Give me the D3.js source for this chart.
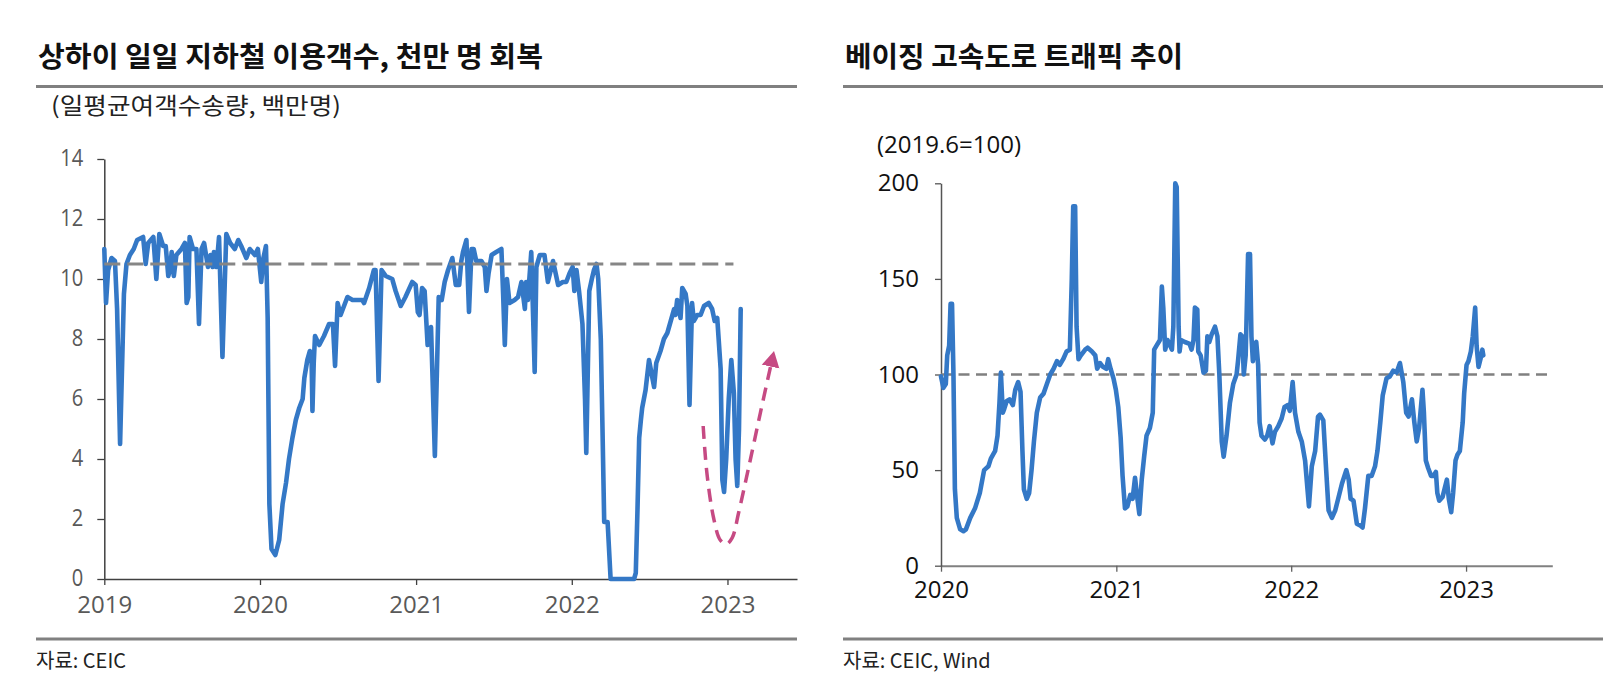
<!DOCTYPE html>
<html><head><meta charset="utf-8">
<script src="https://cdn.jsdelivr.net/npm/d3@7"></script>
<style>
html,body{margin:0;padding:0;background:#fff;}
svg{display:block;}
</style></head><body>
<svg id="chart" width="1613" height="678"></svg>
<script>
// ---------- Shanghai metro (left) ----------
const metroTitle = "상하이 일일 지하철 이용객수, 천만 명 회복";
const metroUnit = "(일평균여객수송량, 백만명)";
const metroSource = "자료: CEIC";
const metroDates = [
"2019-01-01","2019-01-05","2019-01-10","2019-01-18","2019-01-26","2019-01-31","2019-02-07","2019-02-16","2019-02-22","2019-03-02",
"2019-03-11","2019-03-19","2019-04-02","2019-04-08","2019-04-14","2019-04-26","2019-05-03","2019-05-10","2019-05-19","2019-05-25",
"2019-05-31","2019-06-04","2019-06-08","2019-06-13","2019-06-19","2019-07-01","2019-07-09","2019-07-13","2019-07-17","2019-07-20",
"2019-07-28","2019-08-05","2019-08-11","2019-08-17","2019-08-23","2019-09-01","2019-09-07","2019-09-12","2019-09-15","2019-09-21",
"2019-09-27","2019-10-05","2019-10-14","2019-10-23","2019-11-03","2019-11-11","2019-11-18","2019-11-30","2019-12-08","2019-12-20",
"2019-12-27","2020-01-04","2020-01-09","2020-01-15","2020-01-19","2020-01-23","2020-01-28","2020-02-06","2020-02-15","2020-02-23",
"2020-03-02","2020-03-09","2020-03-17","2020-03-25","2020-04-02","2020-04-10","2020-04-14","2020-04-21","2020-04-27","2020-05-01",
"2020-05-03","2020-05-06","2020-05-09","2020-05-19","2020-05-30","2020-06-11","2020-06-20","2020-06-25","2020-07-01","2020-07-08",
"2020-07-24","2020-08-05","2020-08-16","2020-08-28","2020-09-01","2020-09-13","2020-09-24","2020-09-28","2020-10-05","2020-10-12",
"2020-10-22","2020-11-06","2020-11-14","2020-11-26","2020-12-07","2020-12-23","2020-12-31","2021-01-05","2021-01-09","2021-01-15",
"2021-01-21","2021-01-28","2021-02-05","2021-02-14","2021-02-23","2021-03-02","2021-03-09","2021-03-17","2021-03-27","2021-04-04",
"2021-04-12","2021-04-17","2021-04-21","2021-04-29","2021-05-05","2021-05-11","2021-05-16","2021-05-22","2021-06-03","2021-06-11",
"2021-06-15","2021-06-20","2021-06-27","2021-07-08","2021-07-20","2021-07-24","2021-07-28","2021-08-02","2021-08-08","2021-08-20",
"2021-08-28","2021-09-05","2021-09-13","2021-09-16","2021-09-20","2021-09-28","2021-10-06","2021-10-10","2021-10-18","2021-10-29",
"2021-11-06","2021-11-18","2021-11-30","2021-12-11","2021-12-19","2021-12-27","2022-01-03","2022-01-07","2022-01-12","2022-01-18",
"2022-01-26","2022-02-01","2022-02-04","2022-02-11","2022-02-17","2022-02-22","2022-02-28","2022-03-04","2022-03-10","2022-03-14",
"2022-03-18","2022-03-26","2022-04-02","2022-05-27","2022-05-31","2022-06-04","2022-06-08","2022-06-12","2022-06-15","2022-06-23",
"2022-07-01","2022-07-09","2022-07-13","2022-07-18","2022-07-28","2022-08-05","2022-08-13","2022-08-21","2022-08-29","2022-09-01",
"2022-09-05","2022-09-13","2022-09-17","2022-09-25","2022-09-29","2022-10-04","2022-10-10","2022-10-14","2022-10-22","2022-10-30",
"2022-11-07","2022-11-18","2022-11-26","2022-12-02","2022-12-08","2022-12-16","2022-12-20","2022-12-24","2022-12-29","2023-01-04",
"2023-01-10","2023-01-16","2023-01-20","2023-01-24","2023-01-28","2023-02-01"];
const metroValues = [
11.0,9.2,10.3,10.7,10.6,9.0,4.5,9.5,10.5,10.8,
11.0,11.3,11.4,10.5,11.2,11.4,10.0,11.5,11.1,11.1,
10.1,10.3,10.9,10.1,10.8,11.0,11.2,9.2,9.4,11.4,
11.0,11.0,8.5,11.0,11.2,10.4,10.8,10.4,10.9,10.4,
11.4,7.4,11.5,11.2,11.0,11.3,11.1,10.7,11.0,10.8,
11.0,9.9,10.7,11.1,8.7,2.5,1.0,0.8,1.3,2.5,
3.2,4.0,4.7,5.3,5.7,6.0,6.7,7.3,7.6,7.3,
5.6,7.2,8.1,7.8,8.1,8.5,8.5,7.1,9.2,8.8,
9.4,9.3,9.3,9.3,9.2,9.7,10.3,10.3,6.6,10.3,
10.1,10.0,9.6,9.1,9.4,9.9,9.8,8.9,8.8,9.7,
9.6,7.8,8.4,4.1,9.4,9.3,9.9,10.3,10.7,9.8,
9.8,10.6,10.9,11.3,8.9,11.0,11.0,10.6,10.6,10.4,
9.6,10.2,10.8,10.9,11.0,9.5,7.8,10.0,9.2,9.3,
9.4,9.9,9.0,9.9,9.3,10.9,6.9,10.4,10.8,10.8,
9.9,10.6,9.8,9.9,9.9,10.2,10.4,9.6,10.3,9.6,
8.5,6.0,4.2,9.6,10.0,10.3,10.5,10.0,8.0,5.0,
1.9,1.9,0,0,0.2,2.3,4.7,5.3,5.7,6.3,
7.3,6.7,6.4,7.2,7.6,8.0,8.2,8.6,9.0,8.8,
9.3,8.7,9.7,9.5,9.1,5.8,9.2,8.6,8.8,8.8,
9.1,9.2,9.0,8.6,8.7,7.0,3.3,2.9,4.0,6.0,
7.3,6.2,4.0,3.1,5.0,9.0];
const metroRefValue = 10.5;
const metroRefDates = ["2019-01-01","2023-01-15"];
const metroYTicks = [0,2,4,6,8,10,12,14];
const metroXTicks = ["2019-01-01","2020-01-01","2021-01-01","2022-01-01","2023-01-01"];
const metroDomain = ["2019-01-01","2023-06-13"];
// annotation arrow (recovery path)
const arrowDates = ["2022-11-05","2022-11-14","2022-11-30","2022-12-15","2022-12-29","2023-01-12","2023-01-27","2023-02-20","2023-03-19","2023-04-12"];
const arrowValues = [5.1,3.5,2.0,1.3,1.16,1.37,2.2,3.74,5.53,7.08];

// ---------- Beijing highway traffic (right) ----------
const trafficTitle = "베이징 고속도로 트래픽 추이";
const trafficUnit = "(2019.6=100)";
const trafficSource = "자료: CEIC, Wind";
const trafficDates = [
"2020-01-01","2020-01-06","2020-01-11","2020-01-14","2020-01-18","2020-01-21","2020-01-24","2020-01-27","2020-01-30","2020-02-03",
"2020-02-10","2020-02-17","2020-02-22","2020-03-02","2020-03-12","2020-03-22","2020-03-31","2020-04-09","2020-04-14","2020-04-23",
"2020-04-28","2020-05-02","2020-05-05","2020-05-09","2020-05-12","2020-05-17","2020-05-23","2020-05-30","2020-06-04","2020-06-10",
"2020-06-15","2020-06-19","2020-06-22","2020-06-28","2020-07-03","2020-07-08","2020-07-13","2020-07-19","2020-07-26","2020-08-02",
"2020-08-09","2020-08-16","2020-08-23","2020-08-30","2020-09-05","2020-09-12","2020-09-19","2020-09-26","2020-09-30","2020-10-03",
"2020-10-07","2020-10-10","2020-10-14","2020-10-19","2020-10-28","2020-11-02","2020-11-11","2020-11-18","2020-11-22","2020-11-28",
"2020-12-04","2020-12-11","2020-12-15","2020-12-20","2020-12-26","2020-12-31","2021-01-05","2021-01-10","2021-01-14","2021-01-19",
"2021-01-24","2021-01-30","2021-02-04","2021-02-09","2021-02-14","2021-02-18","2021-02-23","2021-02-28","2021-03-05","2021-03-12",
"2021-03-18","2021-03-21","2021-03-28","2021-04-02","2021-04-06","2021-04-09","2021-04-13","2021-04-18","2021-04-27","2021-04-30",
"2021-05-04","2021-05-07","2021-05-11","2021-05-13","2021-05-16","2021-05-24","2021-06-03","2021-06-07","2021-06-11","2021-06-14",
"2021-06-19","2021-06-21","2021-06-26","2021-07-02","2021-07-07","2021-07-10","2021-07-14","2021-07-19","2021-07-26","2021-07-31",
"2021-08-04","2021-08-09","2021-08-13","2021-08-19","2021-08-26","2021-09-02","2021-09-09","2021-09-12","2021-09-17","2021-09-21",
"2021-09-24","2021-09-28","2021-10-03","2021-10-07","2021-10-10","2021-10-13","2021-10-17","2021-10-20","2021-10-24","2021-10-27",
"2021-10-31","2021-11-07","2021-11-12","2021-11-17","2021-11-23","2021-11-28","2021-12-05","2021-12-12","2021-12-18","2021-12-25",
"2021-12-29","2022-01-04","2022-01-09","2022-01-16","2022-01-23","2022-01-30","2022-02-04","2022-02-07","2022-02-13","2022-02-20",
"2022-02-26","2022-03-02","2022-03-09","2022-03-15","2022-03-20","2022-03-27","2022-04-03","2022-04-08","2022-04-17","2022-04-26",
"2022-05-01","2022-05-05","2022-05-11","2022-05-18","2022-05-25","2022-05-30","2022-06-04","2022-06-11","2022-06-18","2022-06-25",
"2022-06-30","2022-07-06","2022-07-11","2022-07-19","2022-07-26","2022-08-02","2022-08-09","2022-08-16","2022-08-23","2022-08-29",
"2022-09-03","2022-09-10","2022-09-15","2022-09-20","2022-09-25","2022-10-02","2022-10-05","2022-10-09","2022-10-14","2022-10-20",
"2022-10-25","2022-10-30","2022-11-02","2022-11-06","2022-11-13","2022-11-22","2022-11-26","2022-12-01","2022-12-05","2022-12-10",
"2022-12-14","2022-12-19","2022-12-25","2022-12-28","2023-01-02","2023-01-06","2023-01-11","2023-01-15","2023-01-20","2023-01-23",
"2023-01-27","2023-01-31","2023-02-04","2023-02-06"];
const trafficValues = [
99,93,95,110,115,137,137,100,40,25,
19,18,19,25,30,38,50,52,56,60,
68,85,101,80,82,86,87,84,92,96,
91,60,40,35,38,50,65,80,88,90,
95,100,103,107,105,108,112,113,150,188,
188,125,108,110,113,114,112,110,103,106,
104,103,108,103,98,92,83,67,47,30,
31,37,35,46,35,27,45,57,68,72,
80,113,116,118,146,135,113,118,113,125,
200,198,125,112,118,117,116,113,118,135,
134,112,110,101,102,120,117,121,125,120,
100,65,57,68,85,95,100,107,121,120,
100,110,163,163,120,107,115,117,105,75,
68,66,68,73,64,70,73,77,83,84,
81,96,80,70,65,55,40,31,52,60,
78,79,76,50,29,25,29,34,43,50,
45,35,34,22,21,20,30,47,47,52,
60,75,89,98,99,102,101,106,96,80,
78,87,75,65,72,92,80,55,51,47,
47,49,38,34,36,45,35,28,38,55,
58,60,75,90,105,107,112,120,135,115,
104,108,113,110];
const trafficRefValue = 100;
const trafficYTicks = [0,50,100,150,200];
const trafficXTicks = ["2020-01-01","2021-01-01","2022-01-01","2023-01-01"];
const trafficDomain = ["2020-01-01","2023-06-30"];

// ---------- drawing ----------
const parse = d3.timeParse("%Y-%m-%d");
const svg = d3.select("#chart");
svg.append("rect").attr("width",1613).attr("height",678).attr("fill","#fff");

const KR = "'Noto Sans CJK KR','Noto Sans',sans-serif";
const NUM = "'Open Sans','Noto Sans',sans-serif";
const BLUE = "#3478c6";

function frame(x0, x1, title, titleLen, source) {
  svg.append("text").attr("x", x0 + 2).attr("y", 67)
    .attr("font-family", KR).attr("font-weight", 700).attr("font-size", 28)
    .attr("fill", "#111").attr("textLength", titleLen).attr("lengthAdjust", "spacingAndGlyphs")
    .text(title);
  svg.append("line").attr("x1", x0).attr("x2", x1).attr("y1", 86.5).attr("y2", 86.5)
    .attr("stroke", "#808080").attr("stroke-width", 3);
  svg.append("line").attr("x1", x0).attr("x2", x1).attr("y1", 639).attr("y2", 639)
    .attr("stroke", "#808080").attr("stroke-width", 3);
  svg.append("text").attr("x", x0).attr("y", 668)
    .attr("font-family", KR).attr("font-size", 20).attr("fill", "#222")
    .text(source);
}

// ---- left chart ----
frame(36, 797, metroTitle, 505, metroSource);
svg.append("text").attr("x", 51).attr("y", 114)
  .attr("font-family", KR).attr("font-size", 23).attr("fill", "#222")
  .attr("textLength", 290).attr("lengthAdjust", "spacingAndGlyphs")
  .text(metroUnit);

const xL = d3.scaleTime().domain(metroDomain.map(parse)).range([104.3, 797]);
const yL = d3.scaleLinear().domain([0, 14]).range([579, 159]);

const gxL = svg.append("g").attr("transform", "translate(0,579)")
  .call(d3.axisBottom(xL).tickValues(metroXTicks.map(parse)).tickFormat(d3.timeFormat("%Y"))
    .tickSize(6).tickSizeOuter(0).tickPadding(11));
gxL.select(".domain").attr("stroke", "#404040").attr("stroke-width", 1.5);
gxL.selectAll(".tick line").attr("stroke", "#404040").attr("stroke-width", 1.3);
gxL.selectAll("text").attr("font-family", NUM).attr("font-size", 24).attr("fill", "#595959");

const gyL = svg.append("g").attr("transform", "translate(104.3,0)")
  .call(d3.axisLeft(yL).tickValues(metroYTicks).tickSize(7).tickSizeOuter(0).tickPadding(14));
gyL.select(".domain").attr("stroke", "#404040").attr("stroke-width", 1.5);
gyL.selectAll(".tick line").attr("stroke", "#404040").attr("stroke-width", 1.3);
gyL.selectAll("text").attr("font-family", NUM).attr("font-size", 23).attr("fill", "#595959")
  .attr("dy", "0.28em")
  .attr("textLength", d => String(d).length * 11.5).attr("lengthAdjust", "spacingAndGlyphs");

const metroData = metroDates.map((d, i) => ({date: parse(d), value: metroValues[i]}));
const lineL = d3.line().x(d => xL(d.date)).y(d => yL(d.value));
svg.append("path").datum(metroData).attr("d", lineL)
  .attr("fill", "none").attr("stroke", BLUE).attr("stroke-width", 4.6)
  .attr("stroke-linejoin", "round").attr("stroke-linecap", "round");

svg.append("line")
  .attr("x1", xL(parse(metroRefDates[0]))).attr("x2", xL(parse(metroRefDates[1])))
  .attr("y1", yL(metroRefValue)).attr("y2", yL(metroRefValue))
  .attr("stroke", "#868686").attr("stroke-width", 3).attr("stroke-dasharray", "16,7");

// arrow
const PINK = "#c64a83";
const defs = svg.append("defs");
defs.append("marker").attr("id", "arr").attr("markerUnits", "userSpaceOnUse")
  .attr("markerWidth", 20).attr("markerHeight", 22).attr("refX", 0).attr("refY", 10)
  .attr("orient", "auto").attr("viewBox", "0 0 20 20")
  .append("path").attr("d", "M0,1 L16,10 L0,19 Z").attr("fill", PINK);
const arrowData = arrowDates.map((d, i) => ({date: parse(d), value: arrowValues[i]}));
svg.append("path").datum(arrowData)
  .attr("d", d3.line().x(d => xL(d.date)).y(d => yL(d.value)).curve(d3.curveCatmullRom))
  .attr("fill", "none").attr("stroke", PINK).attr("stroke-width", 3.5)
  .attr("stroke-dasharray", "13,8").attr("marker-end", "url(#arr)");

// ---- right chart ----
frame(843, 1603, trafficTitle, 338, trafficSource);
svg.append("text").attr("x", 877).attr("y", 153)
  .attr("font-family", NUM).attr("font-size", 24).attr("fill", "#111")
  .text(trafficUnit);

const xR = d3.scaleTime().domain(trafficDomain.map(parse)).range([941, 1552.3]);
const yR = d3.scaleLinear().domain([0, 200]).range([565.7, 183.3]);

const gxR = svg.append("g").attr("transform", "translate(0,565.7)")
  .call(d3.axisBottom(xR).tickValues(trafficXTicks.map(parse)).tickFormat(d3.timeFormat("%Y"))
    .tickSize(6).tickSizeOuter(0).tickPadding(9));
gxR.select(".domain").attr("stroke", "#808080").attr("stroke-width", 2);
gxR.selectAll(".tick line").attr("stroke", "#606060").attr("stroke-width", 1.3);
gxR.selectAll("text").attr("font-family", NUM).attr("font-size", 24).attr("fill", "#111");

const gyR = svg.append("g").attr("transform", "translate(941,0)")
  .call(d3.axisLeft(yR).tickValues(trafficYTicks).tickSize(6).tickSizeOuter(0).tickPadding(16));
gyR.select(".domain").attr("stroke", "#555").attr("stroke-width", 1.5);
gyR.selectAll(".tick line").attr("stroke", "#555").attr("stroke-width", 1.3);
gyR.selectAll("text").attr("font-family", NUM).attr("font-size", 24).attr("fill", "#111");

svg.append("line")
  .attr("x1", xR.range()[0]).attr("x2", xR.range()[1])
  .attr("y1", yR(trafficRefValue)).attr("y2", yR(trafficRefValue))
  .attr("stroke", "#808080").attr("stroke-width", 2.3).attr("stroke-dasharray", "11,6.5");

const trafficData = trafficDates.map((d, i) => ({date: parse(d), value: trafficValues[i]}));
svg.append("path").datum(trafficData)
  .attr("d", d3.line().x(d => xR(d.date)).y(d => yR(d.value)))
  .attr("fill", "none").attr("stroke", BLUE).attr("stroke-width", 4.6)
  .attr("stroke-linejoin", "round").attr("stroke-linecap", "round");
</script>
</body></html>
